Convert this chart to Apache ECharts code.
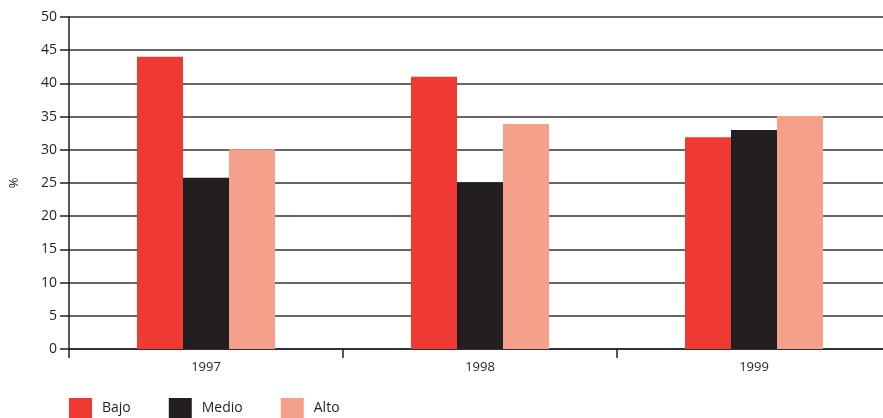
<!DOCTYPE html>
<html><head><meta charset="utf-8">
<script src="https://cdn.jsdelivr.net/npm/echarts@6/dist/echarts.min.js"></script>
<style>html,body{margin:0;padding:0;background:#fff;overflow:hidden;width:883px;height:418px}#c{width:891px;height:418px}</style>
</head><body><div id="c"></div>
<script>
const categories = ['1997', '1998', '1999'];
const bajo = [44.0, 41.0, 31.9];
const medio = [25.8, 25.1, 33.0];
const alto = [30.1, 33.9, 35.1];
const yTicks = [0, 5, 10, 15, 20, 25, 30, 35, 40, 45, 50];

const chart = echarts.init(document.getElementById('c'));
const font = 'Open Sans';
chart.setOption({
  animation: false,
  textStyle: { fontFamily: font },
  grid: { left: 69, right: 0, top: 17, bottom: 69 },
  legend: {
    left: 69, top: 398, padding: 0, itemWidth: 23, itemHeight: 20, itemGap: 38,
    icon: 'rect',
    textStyle: { fontFamily: font, fontSize: 14, color: '#231F20', padding: [3, 0, 0, 5] },
    data: ['Bajo', 'Medio', 'Alto']
  },
  xAxis: {
    type: 'category', data: categories,
    axisLine: { lineStyle: { color: '#231F20', width: 1.5 } },
    axisTick: { show: true, length: 9, lineStyle: { color: '#231F20', width: 1.5 } },
    axisLabel: { fontFamily: font, fontSize: 13, color: '#231F20', margin: 12 }
  },
  yAxis: {
    type: 'value', min: yTicks[0], max: yTicks[yTicks.length - 1], interval: 5,
    name: '%', nameLocation: 'middle', nameGap: 48, nameRotate: 90,
    nameTextStyle: { fontFamily: font, fontSize: 13, color: '#231F20' },
    axisLine: { show: true, lineStyle: { color: '#231F20', width: 1.5 } },
    axisTick: { show: true, length: 9, lineStyle: { color: '#231F20', width: 1.5 } },
    axisLabel: { fontFamily: font, fontSize: 14, color: '#231F20', margin: 12 },
    splitLine: { show: true, lineStyle: { color: '#333333', width: 1.6 } }
  },
  series: [
    { name: 'Bajo', type: 'bar', data: bajo, barWidth: 46, barGap: '0%', itemStyle: { color: '#EE3A32' } },
    { name: 'Medio', type: 'bar', data: medio, barWidth: 46, barGap: '0%', itemStyle: { color: '#231F20' } },
    { name: 'Alto', type: 'bar', data: alto, barWidth: 46, barGap: '0%', itemStyle: { color: '#F5A08A' } }
  ]
});
</script></body></html>
